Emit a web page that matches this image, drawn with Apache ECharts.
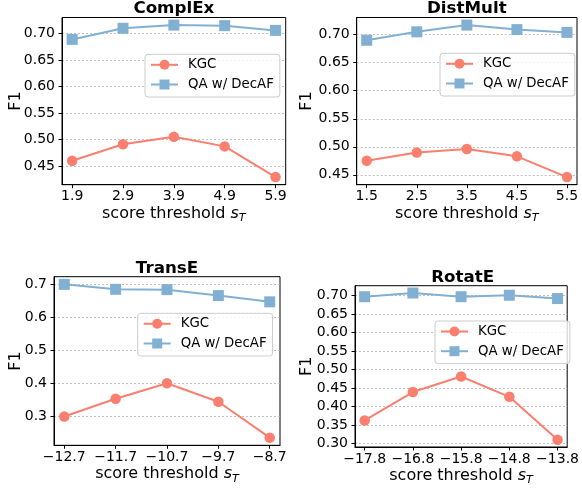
<!DOCTYPE html>
<html><head><meta charset="utf-8">
<script src="https://cdn.jsdelivr.net/npm/echarts@6/dist/echarts.min.js"></script>
<style>html,body{margin:0;padding:0;background:#fff}#c{width:582px;height:488px}</style>
</head><body><div id="c"></div>
<script>
// ---- data ----
const titles = ['ComplEx', 'DistMult', 'TransE', 'RotatE'];
const seriesNames = ['KGC', 'QA w/ DecAF'];

const xComplEx = [1.9, 2.9, 3.9, 4.9, 5.9];
const kgcComplEx = [0.460, 0.491, 0.505, 0.487, 0.429];
const qaComplEx = [0.689, 0.710, 0.716, 0.715, 0.706];
const yTicksComplEx = [0.45, 0.50, 0.55, 0.60, 0.65, 0.70];

const xDistMult = [1.5, 2.5, 3.5, 4.5, 5.5];
const kgcDistMult = [0.475, 0.490, 0.496, 0.483, 0.446];
const qaDistMult = [0.690, 0.705, 0.717, 0.709, 0.704];
const yTicksDistMult = [0.45, 0.50, 0.55, 0.60, 0.65, 0.70];

const xTransE = [-12.7, -11.7, -10.7, -9.7, -8.7];
const kgcTransE = [0.300, 0.354, 0.401, 0.345, 0.236];
const qaTransE = [0.701, 0.686, 0.685, 0.667, 0.648];
const yTicksTransE = [0.3, 0.4, 0.5, 0.6, 0.7];

const xRotatE = [-17.8, -16.8, -15.8, -14.8, -13.8];
const kgcRotatE = [0.362, 0.439, 0.481, 0.426, 0.310];
const qaRotatE = [0.697, 0.707, 0.697, 0.701, 0.692];
const yTicksRotatE = [0.30, 0.35, 0.40, 0.45, 0.50, 0.55, 0.60, 0.65, 0.70];

// ---- layout / style ----
const FONT = 'DejaVu Sans';
const C_KGC = '#FA7F6F', C_QA = '#82B0D2';
const panels = [
  {x: xComplEx, kgc: kgcComplEx, qa: qaComplEx, yt: yTicksComplEx, dec: 2,
   grid: {left: 62, top: 17.5, width: 223.7, height: 167.2}, leg: {left: 145, top: 54.3}, titleTop: 0, nameGap: 38},
  {x: xDistMult, kgc: kgcDistMult, qa: qaDistMult, yt: yTicksDistMult, dec: 2,
   grid: {left: 356.7, top: 17.5, width: 220.3, height: 167.2}, leg: {left: 440, top: 53.3}, titleTop: 0, nameGap: 41.5},
  {x: xTransE, kgc: kgcTransE, qa: qaTransE, yt: yTicksTransE, dec: 1,
   grid: {left: 54, top: 276.7, width: 226, height: 168.6}, leg: {left: 137.7, top: 313.3}, titleTop: 260, nameGap: 30},
  {x: xRotatE, kgc: kgcRotatE, qa: qaRotatE, yt: yTicksRotatE, dec: 2,
   grid: {left: 355, top: 285.7, width: 215.3, height: 161.3}, leg: {left: 435, top: 321}, titleTop: 269.5, nameGap: 40}
];

function fmt(v, d) {
  const s = Math.abs(v).toFixed(d);
  return v < 0 ? '\u2212' + s : s;
}

const option = {
  animation: false,
  backgroundColor: '#fff',
  textStyle: {fontFamily: FONT},
  title: [], grid: [], xAxis: [], yAxis: [], series: [], legend: []
};

panels.forEach((p, i) => {
  const g = p.grid;
  option.grid.push({left: g.left, top: g.top, width: g.width, height: g.height,
    show: true, borderColor: '#000', borderWidth: 1, backgroundColor: 'transparent', containLabel: false});
  option.title.push({text: titles[i], left: g.left + g.width / 2, top: p.titleTop, textAlign: 'center', padding: 0,
    textStyle: {fontFamily: FONT, fontWeight: 'bold', fontSize: 16.7, color: '#000'}});
  const xr = p.x[p.x.length - 1] - p.x[0];
  const all = p.kgc.concat(p.qa);
  const lo = Math.min(...all), hi = Math.max(...all);
  option.xAxis.push({
    type: 'value', gridIndex: i,
    min: p.x[0] - 0.05 * xr, max: p.x[p.x.length - 1] + 0.05 * xr,
    axisLine: {show: true, lineStyle: {color: '#000', width: 1}},
    axisTick: {show: true, length: 3.5, inside: false, customValues: p.x, lineStyle: {color: '#000', width: 1}},
    axisLabel: {show: true, customValues: p.x, margin: 5, fontSize: 14, fontFamily: FONT, color: '#000',
      formatter: v => fmt(v, 1)},
    splitLine: {show: false},
    name: '{a|score threshold }{s|s}{t|T}', nameLocation: 'middle', nameGap: 19, nameMoveOverlap: false,
    nameTextStyle: {fontFamily: FONT, fontSize: 16, color: '#000',
      rich: {a: {fontSize: 16, fontFamily: FONT, color: '#000'},
             s: {fontSize: 16, fontFamily: FONT, fontStyle: 'italic', color: '#000'},
             t: {fontSize: 11.2, fontFamily: FONT, fontStyle: 'italic', color: '#000', padding: [9, 0, 0, 0]}}}
  });
  option.yAxis.push({
    type: 'value', gridIndex: i,
    min: lo - 0.05 * (hi - lo), max: hi + 0.05 * (hi - lo),
    axisLine: {show: true, lineStyle: {color: '#000', width: 1}},
    axisTick: {show: true, length: 3.5, inside: false, customValues: p.yt, lineStyle: {color: '#000', width: 1}},
    axisLabel: {show: true, customValues: p.yt, margin: 7, fontSize: 14, fontFamily: FONT, color: '#000',
      formatter: v => fmt(v, p.dec)},
    splitLine: {show: true, lineStyle: {color: '#b0b0b0', width: 0.8, type: [2, 2]}},
    name: 'F1', nameLocation: 'middle', nameGap: p.nameGap, nameMoveOverlap: false,
    nameTextStyle: {fontFamily: FONT, fontSize: 16, color: '#000'}
  });
  option.series.push({
    name: seriesNames[0], type: 'line', xAxisIndex: i, yAxisIndex: i,
    data: p.x.map((x, k) => [x, p.kgc[k]]),
    symbol: 'circle', symbolSize: 10.5, color: C_KGC,
    lineStyle: {color: C_KGC, width: 2}, itemStyle: {color: C_KGC}
  });
  option.series.push({
    name: seriesNames[1], type: 'line', xAxisIndex: i, yAxisIndex: i,
    data: p.x.map((x, k) => [x, p.qa[k]]),
    symbol: 'rect', symbolSize: 11, color: C_QA,
    lineStyle: {color: C_QA, width: 2}, itemStyle: {color: C_QA}
  });
  option.legend.push({
    data: seriesNames, orient: 'vertical', left: p.leg.left, top: p.leg.top,
    itemWidth: 27, itemHeight: 12.5, itemGap: 6.7,
    padding: [4, 6, 6, 5], borderColor: '#cccccc', borderWidth: 1, borderRadius: 3,
    backgroundColor: 'rgba(255,255,255,0.8)', selectedMode: false,
    textStyle: {fontFamily: FONT, fontSize: 13.3, color: '#000', padding: [0, 0, 0, 5]}
  });
});

const chart = echarts.init(document.getElementById('c'), null, {renderer: 'canvas'});
chart.setOption(option);
</script>
</body></html>
